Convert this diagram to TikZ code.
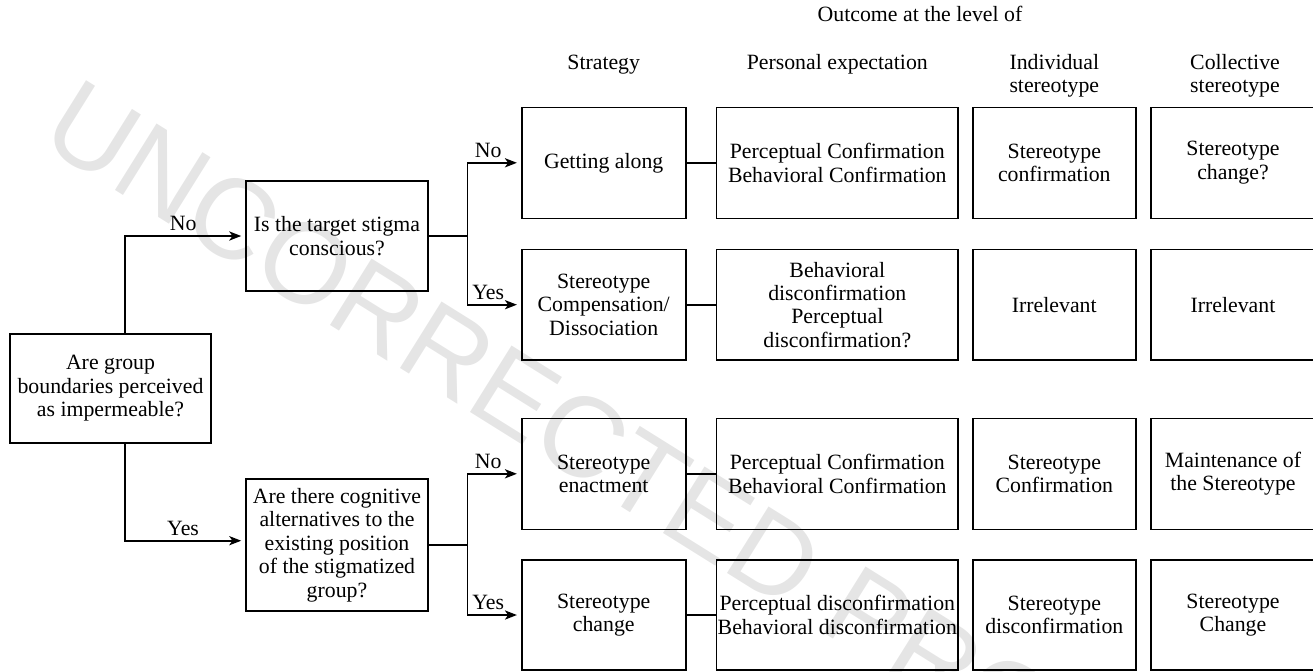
\documentclass[tikz,border=0pt]{standalone}
\usepackage{fontspec}
\setmainfont{Liberation Serif}
\newfontfamily\wmfont{Liberation Sans}
\usetikzlibrary{arrows.meta,calc}
\tikzset{
  box/.style={draw, line width=0.8pt, inner sep=0pt, align=center, font=\fontsize{10.9}{11.7}\selectfont},
  hdr/.style={inner sep=0pt, align=center, font=\fontsize{10.9}{11.7}\selectfont},
  lbl/.style={inner sep=2pt, font=\fontsize{10.9}{11.7}\selectfont},
  conn/.style={line width=0.8pt},
  arr/.style={line width=0.8pt, -{Stealth[length=6pt,width=4.6pt,inset=1.6pt]}, shorten >=2pt},
  wm/.style={inner sep=0pt, text=black!10, font=\wmfont\fontsize{57}{60}\selectfont}
}
\begin{document}
\begin{tikzpicture}[x=0.5pt,y=-0.5pt]
\useasboundingbox (0,0) rectangle (1313,671);
% watermark
\node[wm, anchor=base west, rotate=-32] (wmk) at (37.5,142) {UNCORRECTED PROOF};
% headers
\node[hdr, anchor=base] (hout) at (920,21.5) {Outcome at the level of};
\node[hdr, anchor=base] (hstr) at (603.7,69) {Strategy};
\node[hdr, anchor=base] (hper) at (837.3,69) {Personal expectation};
\node[hdr] (hind) at (1054.3,75.5) {Individual\\stereotype};
\node[hdr] (hcol) at (1235,75.5) {Collective\\stereotype};
% decision boxes
\node[box, minimum width=100.5pt, minimum height=54.5pt] (A) at (110.5,388.5) {Are group\\boundaries perceived\\as impermeable?};
\node[box, minimum width=91pt, minimum height=55pt] (B) at (337,236) {Is the target stigma\\conscious?};
\node[box, minimum width=91pt, minimum height=66pt] (C) at (337,545) {Are there cognitive\\alternatives to the\\existing position\\of the stigmatized\\group?};
% row 1
\node[box, minimum width=82pt, minimum height=55.5pt] (S1) at (603.7,162.8) {Getting along};
\node[box, minimum width=120.75pt, minimum height=55.5pt] (P1) at (837.3,162.8) {Perceptual Confirmation\\Behavioral Confirmation};
\node[box, minimum width=81.5pt, minimum height=55.5pt] (I1) at (1054.3,162.8) {Stereotype\\confirmation};
\node[box, minimum width=82pt, minimum height=55.5pt] (K1) at (1233,162.8) {Stereotype\\change?};
% row 2
\node[box, minimum width=82pt, minimum height=55.3pt] (S2) at (603.7,304.7) {Stereotype\\Compensation/\\Dissociation};
\node[box, minimum width=120.75pt, minimum height=55.3pt] (P2) at (837.3,304.7) {Behavioral\\disconfirmation\\Perceptual\\disconfirmation?};
\node[box, minimum width=81.5pt, minimum height=55.3pt] (I2) at (1054.3,304.7) {Irrelevant};
\node[box, minimum width=82pt, minimum height=55.3pt] (K2) at (1233,304.7) {Irrelevant};
% row 3
\node[box, minimum width=82pt, minimum height=55.5pt] (S3) at (603.7,473.8) {Stereotype\\enactment};
\node[box, minimum width=120.75pt, minimum height=55.5pt] (P3) at (837.3,473.8) {Perceptual Confirmation\\Behavioral Confirmation};
\node[box, minimum width=81.5pt, minimum height=55.5pt] (I3) at (1054.3,473.8) {Stereotype\\Confirmation};
\node[box, minimum width=82pt, minimum height=55.5pt] (K3) at (1233,473.8) {Maintenance of\\the Stereotype};
% row 4
\node[box, minimum width=82pt, minimum height=55pt] (S4) at (603.7,615) {Stereotype\\change};
\node[box, minimum width=120.75pt, minimum height=55pt] (P4) at (837.3,615) {Perceptual disconfirmation\\Behavioral disconfirmation};
\node[box, minimum width=81.5pt, minimum height=55pt] (I4) at (1054.3,615) {Stereotype\\disconfirmation};
\node[box, minimum width=82pt, minimum height=55pt] (K4) at (1233,615) {Stereotype\\Change};
% junctions
\coordinate (aT) at ($(A.north)+(14.5,0)$);
\coordinate (aB) at ($(A.south)+(14.5,0)$);
\coordinate (j1) at (467.5,236);
\coordinate (j2) at (467.5,545);
% connectors from A
\draw[arr] (aT) |- node[lbl, pos=0.75, above, xshift=-1pt] {No} (B.west);
\draw[arr] (aB) |- node[lbl, pos=0.75, above, xshift=-1pt] {Yes} ($(C.west)+(0,-4.3)$);
% from B
\draw[conn] (B.east) -- (j1);
\draw[arr] (j1) |- node[lbl, pos=0.75, above, xshift=-3pt] {No} (S1.west);
\draw[arr] (j1) |- node[lbl, pos=0.75, above, xshift=-3pt] {Yes} (S2.west);
% from C
\draw[conn] (C.east) -- (j2);
\draw[arr] (j2) |- node[lbl, pos=0.75, above, xshift=-3pt] {No} (S3.west);
\draw[arr] (j2) |- node[lbl, pos=0.75, above, xshift=-3pt] {Yes} (S4.west);
% strategy to personal
\draw[conn] (S1.east) -- (P1.west);
\draw[conn] (S2.east) -- (P2.west);
\draw[conn] (S3.east) -- (P3.west);
\draw[conn] (S4.east) -- (P4.west);
\end{tikzpicture}
\end{document}
